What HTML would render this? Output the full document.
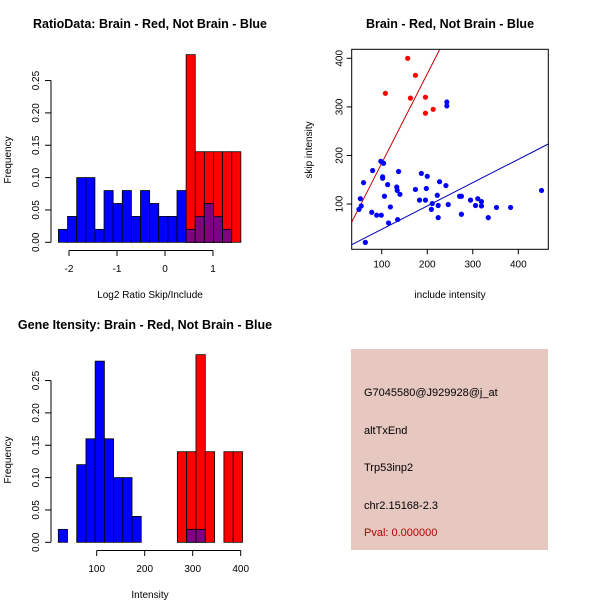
<!DOCTYPE html>
<html><head><meta charset="utf-8"><style>
body{margin:0;background:#fff}
svg{display:block;font-family:"Liberation Sans",sans-serif}
</style></head><body>
<svg id="s" width="600" height="600" xmlns="http://www.w3.org/2000/svg">
<rect width="600" height="600" fill="#fff"/>
<text x="150" y="28" text-anchor="middle" font-size="12.5" font-weight="bold">RatioData: Brain - Red, Not Brain - Blue</text>
<text x="450" y="28" text-anchor="middle" font-size="12.5" font-weight="bold">Brain - Red, Not Brain - Blue</text>
<text x="145" y="329" text-anchor="middle" font-size="12.5" font-weight="bold">Gene Itensity: Brain - Red, Not Brain - Blue</text>
<text x="150" y="298" text-anchor="middle" font-size="10">Log2 Ratio Skip/Include</text>
<text x="150" y="598" text-anchor="middle" font-size="10">Intensity</text>
<text x="450" y="298" text-anchor="middle" font-size="10">include intensity</text>
<text transform="translate(11,160) rotate(-90)" text-anchor="middle" font-size="10">Frequency</text>
<text transform="translate(11,460) rotate(-90)" text-anchor="middle" font-size="10">Frequency</text>
<text transform="translate(312,150) rotate(-90)" text-anchor="middle" font-size="10">skip intensity</text>
<rect x="351" y="349" width="197" height="201" fill="#e6c8c1"/>
<g font-size="11">
<text x="364" y="396">G7045580@J929928@j_at</text>
<text x="364" y="434">altTxEnd</text>
<text x="364" y="471">Trp53inp2</text>
<text x="364" y="509">chr2.15168-2.3</text>
<text x="364" y="536" fill="#b00000">Pval: 0.000000</text>
</g>
</svg>
<script>
// Ratio histogram data
const ratioStart = -2.22, ratioWidth = 0.19;
const ratioBlue = [0.02,0.04,0.10,0.10,0.02,0.08,0.06,0.08,0.04,0.08,0.06,0.04,0.04,0.08,0.02,0.04,0.06,0.04,0.02,0];
const ratioRed = [0,0,0,0,0,0,0,0,0,0,0,0,0,0,0.29,0.14,0.14,0.14,0.14,0.14];
const ratioXTicks = [-2,-1,0,1];
const freqTicks = ["0.00","0.05","0.10","0.15","0.20","0.25"];
// Intensity histogram data
const intBlueStart = 20, intBlueWidth = 19.2;
const intBlue = [0.02,0,0.12,0.16,0.28,0.16,0.10,0.10,0.04];
const intRedStart = 268, intRedWidth = 19.4;
const intRed = [0.14,0.14,0.29,0.14,0,0.14,0.14];
const intOverlap = [0,0.02,0.02,0,0,0,0];
const intXTicks = [100,200,300,400];
// Scatter data
const redX = [157,174,108,163,196,196,213];
const redY = [400,365,328,318,320,287,295];
const blueX = [243,243,98,104,80,60,102,102,113,137,133,134,140,53,55,50,78,89,99,106,119,115,135,64,174,187,200,198,183,196,209,211,222,227,224,224,246,241,271,275,275,295,306,311,319,319,334,352,383,451];
const blueY = [310,302,188,184,169,144,156,153,140,167,135,128,120,111,96,89,83,77,77,116,94,61,68,21,130,163,157,132,108,108,89,101,118,146,97,72,99,138,116,116,79,108,97,111,105,96,72,93,93,128];
const redSlope = 1.84, blueSlope = 0.48;
const scatterXTicks = [100,200,300,400];
const scatterYTicks = [100,200,300,400];

const NS = "http://www.w3.org/2000/svg";
const svg = document.getElementById('s');
function mk(tag, attrs, parent){const e=document.createElementNS(NS,tag);for(const k in attrs)e.setAttribute(k,attrs[k]);(parent||svg).appendChild(e);return e;}
const fy0 = 242.3, fpx = 647;
function fyTop(v, base){return base - v*fpx;}

const rx = v => 165 + v*48;
for(let i=0;i<ratioBlue.length;i++){
  const x0=rx(ratioStart+i*ratioWidth), x1=rx(ratioStart+(i+1)*ratioWidth);
  const b=ratioBlue[i], r=ratioRed[i];
  if(b>0){const e=mk('rect',{x:x0,y:fyTop(b,fy0),width:x1-x0,height:b*fpx,fill:'#0000ff',stroke:'#000','stroke-width':0.8});
    
    }
  if(r>0){const e=mk('rect',{x:x0,y:fyTop(r,fy0),width:x1-x0,height:r*fpx,fill:'#ff0000',stroke:'#000','stroke-width':0.8});
    
    
    const o=Math.min(b,r);
    if(o>0){const p=mk('rect',{x:x0,y:fyTop(o,fy0),width:x1-x0,height:o*fpx,fill:'#7f0080',stroke:'#000','stroke-width':0.8});
      
      }}
}
function yAxis(base, x){
  mk('line',{x1:x,y1:base,x2:x,y2:base-0.25*fpx,stroke:'#000'});
  freqTicks.forEach(t=>{const y=base-parseFloat(t)*fpx;mk('line',{x1:x,y1:y,x2:x-6,y2:y,stroke:'#000'});
    const tx=mk('text',{transform:`translate(${x-12},${y}) rotate(-90)`,'text-anchor':'middle','font-size':10});tx.textContent=t;
    
    });
}
yAxis(fy0,51);
mk('line',{x1:rx(ratioXTicks[0]),y1:250.5,x2:rx(ratioXTicks[ratioXTicks.length-1]),y2:250.5,stroke:'#000'});
ratioXTicks.forEach(t=>{mk('line',{x1:rx(t),y1:250.5,x2:rx(t),y2:256,stroke:'#000'});
  const tx=mk('text',{x:rx(t),y:272,'text-anchor':'middle','font-size':10});tx.textContent=t;
  
  });

const ib = 542.3; const ix = v => 48.7 + v*0.48;
intBlue.forEach((b,i)=>{if(b<=0)return;const x0=ix(intBlueStart+i*intBlueWidth),x1=ix(intBlueStart+(i+1)*intBlueWidth);
  const e=mk('rect',{x:x0,y:fyTop(b,ib),width:x1-x0,height:b*fpx,fill:'#0000ff',stroke:'#000','stroke-width':0.8});
  
  });
intRed.forEach((r,i)=>{if(r<=0)return;const x0=ix(intRedStart+i*intRedWidth),x1=ix(intRedStart+(i+1)*intRedWidth);
  const e=mk('rect',{x:x0,y:fyTop(r,ib),width:x1-x0,height:r*fpx,fill:'#ff0000',stroke:'#000','stroke-width':0.8});
  
  
  const o=intOverlap[i];
  if(o>0){const p=mk('rect',{x:x0,y:fyTop(o,ib),width:x1-x0,height:o*fpx,fill:'#7f0080',stroke:'#000','stroke-width':0.8});
    
    }});
yAxis(ib,51);
mk('line',{x1:ix(intXTicks[0]),y1:550.5,x2:ix(intXTicks[intXTicks.length-1]),y2:550.5,stroke:'#000'});
intXTicks.forEach(t=>{mk('line',{x1:ix(t),y1:550.5,x2:ix(t),y2:556,stroke:'#000'});
  const tx=mk('text',{x:ix(t),y:572,'text-anchor':'middle','font-size':10});tx.textContent=t;
  
  });

const L=351.7,R=548.3,T=49.3,B=249.3;
const sx = v => 336.2 + v*0.4553, sy = v => 252.6 - v*0.4857;
const clip=mk('clipPath',{id:'cp'});mk('rect',{x:L,y:T,width:R-L,height:B-T},clip);
const g=mk('g',{'clip-path':'url(#cp)'});
const xmin=(L-336.2)/0.4553, xmax=(R-336.2)/0.4553;
const rl=mk('line',{x1:sx(xmin),y1:sy(xmin*redSlope),x2:sx(xmax),y2:sy(xmax*redSlope),stroke:'#c00000'},g);


const bl=mk('line',{x1:sx(xmin),y1:sy(xmin*blueSlope),x2:sx(xmax),y2:sy(xmax*blueSlope),stroke:'#0000b0'},g);


blueX.forEach((x,i)=>{const c=mk('circle',{cx:sx(x),cy:sy(blueY[i]),r:2.6,fill:'#0000ff'},g);
  
  });
redX.forEach((x,i)=>{const c=mk('circle',{cx:sx(x),cy:sy(redY[i]),r:2.6,fill:'#ff0000'},g);
  
  });
const box=mk('rect',{x:L,y:T,width:R-L,height:B-T,fill:'none',stroke:'#000'});


scatterXTicks.forEach(t=>{mk('line',{x1:sx(t),y1:B,x2:sx(t),y2:B+5,stroke:'#000'});
  const tx=mk('text',{x:sx(t),y:B+18,'text-anchor':'middle','font-size':10});tx.textContent=t;
  
  });
scatterYTicks.forEach(t=>{mk('line',{x1:L,y1:sy(t),x2:L-5,y2:sy(t),stroke:'#000'});
  const tx=mk('text',{transform:`translate(${L-9},${sy(t)}) rotate(-90)`,'text-anchor':'middle','font-size':10});tx.textContent=t;
  
  });
</script>
</body></html>
